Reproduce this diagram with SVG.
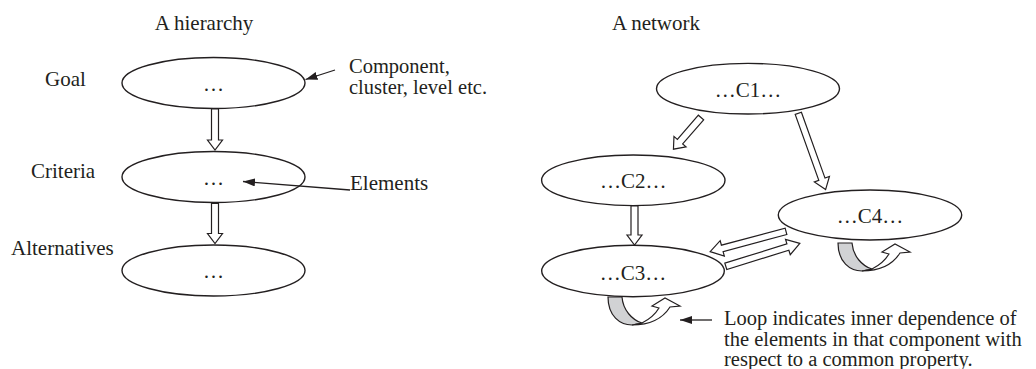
<svg xmlns="http://www.w3.org/2000/svg" width="1036" height="369" viewBox="0 0 1036 369">
<style>
text{font-family:"Liberation Serif","Times New Roman",serif;font-size:21px;fill:#231f20}
.c{text-anchor:middle}
.note{font-size:20.5px}
.node{fill:#fff;stroke:#231f20;stroke-width:1.4}
.ha{fill:#fff;stroke:#231f20;stroke-width:1.2;stroke-linejoin:miter}
.ln{fill:none;stroke:#231f20;stroke-width:1.3}
</style>
<defs>
<marker id="ah" viewBox="0 0 12 8" refX="12" refY="4" markerWidth="12" markerHeight="8" markerUnits="userSpaceOnUse" orient="auto">
<path d="M0,0 L12,4 L0,8 Z" fill="#231f20"/>
</marker>
<g id="loop">
<path d="M0,0 L14,0 C15,13 24,23 34,26 L24,28 C12,28 0,19 0,0 Z" fill="#d1d2d4" stroke="#231f20" stroke-width="1.2"/>
<path d="M34,26 C42,22 48,16 51,11 L44,9 L57,1 L72,9 L62,10 C55,21 42,28 24,28 Z" fill="#fff" stroke="#231f20" stroke-width="1.2" stroke-linejoin="miter"/>
</g>
</defs>

<text class="c" x="204" y="30">A hierarchy</text>
<text class="c" x="656" y="30">A network</text>

<g id="goal">
<ellipse class="node" cx="213.5" cy="83" rx="91.5" ry="25.5"/>
<text class="c" x="213.5" y="91">…</text>
<text x="45" y="86">Goal</text>
</g>
<g id="criteria">
<ellipse class="node" cx="213.5" cy="177" rx="91.5" ry="25.5"/>
<text class="c" x="213.5" y="185">…</text>
<text x="31" y="178">Criteria</text>
</g>
<g id="alternatives">
<ellipse class="node" cx="213.5" cy="270.5" rx="91.5" ry="25.5"/>
<text class="c" x="213.5" y="278">…</text>
<text x="11" y="255">Alternatives</text>
</g>
<g id="component-note">
<text class="note" x="349" y="73">Component,</text>
<text class="note" x="349" y="94">cluster, level etc.</text>
</g>
<g id="elements-note">
<text x="350" y="190">Elements</text>
</g>

<g id="c1">
<ellipse class="node" cx="748" cy="88.7" rx="91.5" ry="25.3"/>
<text class="c" x="748" y="96.5">…C1…</text>
</g>
<g id="c2">
<ellipse class="node" cx="633.3" cy="180.3" rx="91.7" ry="25.3"/>
<text class="c" x="633.3" y="188.3">…C2…</text>
</g>
<g id="c3">
<ellipse class="node" cx="633" cy="271" rx="91.3" ry="25.7"/>
<text class="c" x="633" y="280">…C3…</text>
</g>
<g id="c4">
<ellipse class="node" cx="870" cy="215" rx="91.7" ry="25"/>
<text class="c" x="870" y="223.3">…C4…</text>
</g>
<g id="loop-note">
<text class="note" x="724" y="324.5">Loop indicates inner dependence of</text>
<text class="note" x="724" y="345.5">the elements in that component with</text>
<text class="note" x="724" y="365.5">respect to a common property.</text>
</g>

<g id="connectors">
<path class="ha" transform="translate(215,109) rotate(90)" d="M0,-3.5 H31 V-7.5 L41,0 L31,7.5 V3.5 H0 Z"/>
<path class="ha" transform="translate(215,203.5) rotate(90)" d="M0,-3.5 H30 V-7.5 L40,0 L30,7.5 V3.5 H0 Z"/>
<path class="ha" transform="translate(634.5,206) rotate(90)" d="M0,-3.5 H29 V-7.5 L39,0 L29,7.5 V3.5 H0 Z"/>
<path class="ha" transform="translate(701,117.5) rotate(131)" d="M0,-3.5 H32 V-8 L42,0 L32,8 V3.5 H0 Z"/>
<path class="ha" transform="translate(798.3,113.3) rotate(70.3)" d="M0,-3.3 H70 V-8 L81,0 L70,8 V3.3 H0 Z"/>
<path class="ha" transform="translate(786,231.3) rotate(165)" d="M0,-3.3 H66 V-8 L78.5,0 L66,8 V3.3 H0 Z"/>
<path class="ha" transform="translate(725.8,266.3) rotate(-17.2)" d="M0,-3.3 H65 V-8 L77.5,0 L65,8 V3.3 H0 Z"/>
<use href="#loop" transform="translate(838,243)"/>
<use href="#loop" transform="translate(608,297)"/>
<line class="ln" x1="335" y1="70" x2="305.5" y2="79.5" marker-end="url(#ah)"/>
<line class="ln" x1="350" y1="190" x2="243" y2="181.5" marker-end="url(#ah)"/>
<line class="ln" x1="712" y1="320" x2="680" y2="320" marker-end="url(#ah)"/>
</g>
</svg>
